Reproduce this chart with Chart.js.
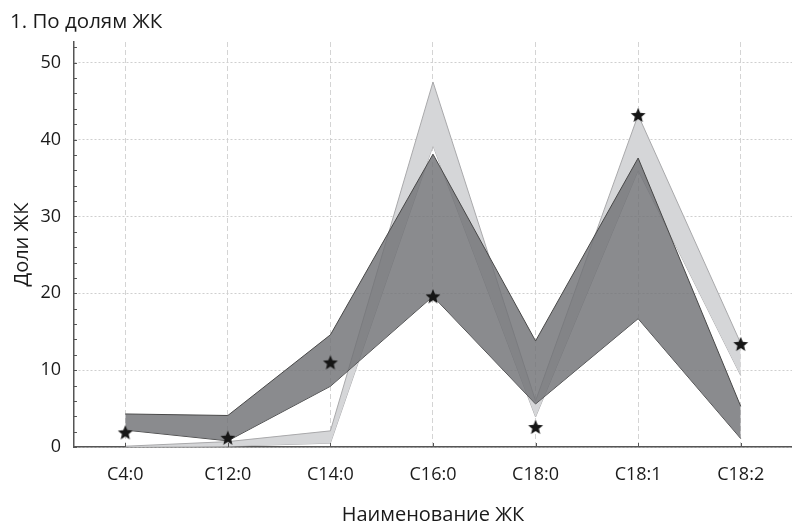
<!DOCTYPE html>
<html>
<head>
<meta charset="utf-8">
<script src="https://cdn.jsdelivr.net/npm/chart.js@4/dist/chart.umd.min.js"></script>
<style>
html,body{margin:0;padding:0;background:#fff;}
#wrap{width:792px;height:524px;position:relative;}
</style>
</head>
<body>
<div id="wrap"><canvas id="c" width="792" height="524"></canvas></div>
<script>
const categories = ['C4:0','C12:0','C14:0','C16:0','C18:0','C18:1','C18:2'];
const darkUpper  = [4.3, 4.1, 14.6, 38.1, 13.8, 37.6, 5.3];
const darkLower  = [2.2, 0.8, 7.9, 19.6, 5.6, 16.7, 1.1];
const lightUpper = [0.1, 0.7, 2.1, 47.5, 6.0, 43.2, 13.5];
const lightLower = [0.0, 0.1, 0.5, 39.2, 3.9, 36.0, 9.3];
const starValues = [1.9, 1.2, 11.0, 19.6, 2.6, 43.2, 13.4];
const yTickLabels = [0, 10, 20, 30, 40, 50];

function makeStar(){
  const c = document.createElement('canvas');
  c.width = 18; c.height = 18;
  const g = c.getContext('2d');
  g.fillStyle = '#161616';
  g.beginPath();
  for (let i = 0; i < 10; i++) {
    const r = (i % 2) ? 3.5 : 7.8;
    const a = -Math.PI/2 + i*Math.PI/5;
    const x = 9 + r*Math.cos(a), y = 9.6 + r*Math.sin(a);
    if (i === 0) g.moveTo(x, y); else g.lineTo(x, y);
  }
  g.closePath();
  g.fill();
  return c;
}
const starImg = makeStar();

const minorTicks = {
  id: 'minorTicks',
  afterDatasetsDraw(chart){
    const ctx = chart.ctx, y = chart.scales.y, x = chart.scales.x;
    ctx.save();
    ctx.strokeStyle = '#555';
    ctx.lineWidth = 1;
    ctx.beginPath();
    for (let v = 0; v <= 52; v += 2) {
      const py = Math.round(y.getPixelForValue(v)) + 0.5;
      ctx.moveTo(y.right, py); ctx.lineTo(y.right + 3, py);
    }
    for (let i = 0; i < categories.length; i++) {
      const px = Math.round(x.getPixelForValue(i)) + 0.5;
      ctx.moveTo(px, x.top); ctx.lineTo(px, x.top - 4);
    }
    ctx.stroke();
    ctx.restore();
  }
};

const FONT = "'Open Sans', 'Noto Sans', sans-serif";

new Chart(document.getElementById('c'), {
  type: 'line',
  data: {
    labels: categories,
    datasets: [
      { label: 'stars', data: starValues, showLine: false, pointStyle: starImg, pointRadius: 8, borderColor: '#161616', backgroundColor: '#161616', fill: false },
      { label: 'darkUpper', data: darkUpper, borderColor: '#474747', borderWidth: 1, pointRadius: 0, tension: 0, fill: '+1', backgroundColor: 'rgba(112,113,117,0.82)' },
      { label: 'darkLower', data: darkLower, borderColor: '#474747', borderWidth: 1, pointRadius: 0, tension: 0, fill: false },
      { label: 'lightUpper', data: lightUpper, borderColor: '#a9a9ab', borderWidth: 1, pointRadius: 0, tension: 0, fill: '+1', backgroundColor: 'rgba(213,214,216,1)' },
      { label: 'lightLower', data: lightLower, borderColor: '#a9a9ab', borderWidth: 1, pointRadius: 0, tension: 0, fill: false }
    ]
  },
  options: {
    responsive: false,
    animation: false,
    devicePixelRatio: 1,
    layout: { autoPadding: false, padding: { left: 10, right: 0, top: 0, bottom: 0 } },
    plugins: {
      legend: { display: false },
      tooltip: { enabled: false },
      title: {
        display: true, text: '1. По долям ЖК', align: 'start',
        color: '#1a1a1a', font: { family: FONT, size: 20.5, weight: 'normal' },
        padding: { top: 10, bottom: 7.4 }
      }
    },
    scales: {
      x: {
        offset: true,
        grid: { display: true, offset: false, color: '#d4d4d4', lineWidth: 1, drawTicks: false },
        border: { display: true, color: '#555', width: 1.5, dash: [5, 3] },
        ticks: { color: '#1a1a1a', font: { family: FONT, size: 18 }, padding: 17.2, maxRotation: 0 },
        title: { display: true, text: 'Наименование ЖК', color: '#1a1a1a', font: { family: FONT, size: 20 }, padding: { top: 0.5, bottom: -3.5 } }
      },
      y: {
        min: 0, max: 52.7,
        grid: { color: '#cfcfcf', lineWidth: 1, drawTicks: false },
        border: { display: true, color: '#555', width: 1.5, dash: [2, 2] },
        ticks: {
          stepSize: 10, includeBounds: false, padding: 13,
          color: '#1a1a1a', font: { family: FONT, size: 18 },
          callback: (v) => yTickLabels.includes(v) ? String(v) : ''
        },
        title: { display: true, text: 'Доли ЖК', color: '#1a1a1a', font: { family: FONT, size: 20 }, padding: { top: 0, bottom: -6.6 } }
      }
    }
  },
  plugins: [minorTicks]
});
</script>
</body>
</html>
